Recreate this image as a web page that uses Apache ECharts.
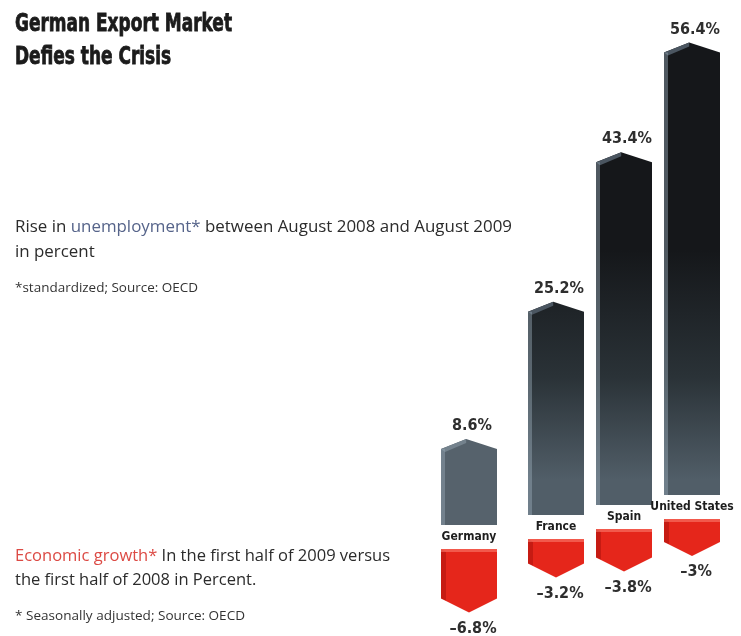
<!DOCTYPE html>
<html>
<head>
<meta charset="utf-8">
<title>German Export Market Defies the Crisis</title>
<script src="https://cdn.jsdelivr.net/npm/echarts@6/dist/echarts.min.js"></script>
<style>
  html, body { margin: 0; padding: 0; background: #ffffff; }
  #chart { width: 741px; height: 636px; }
</style>
</head>
<body>
<div id="chart"></div>
<script>
// Countries and the two indicators (percent)
const countries = ['Germany', 'France', 'Spain', 'United States'];
const unemploymentRise = [8.6, 25.2, 43.4, 56.4];
const economicGrowth = [-6.8, -3.2, -3.8, -3];

// Headline and explanatory texts
const titleLines = ['German Export Market', 'Defies the Crisis'];
const unemploymentNote = ['Rise in {u|unemployment*} between August 2008 and August 2009', 'in percent'];
const unemploymentSource = '*standardized; Source: OECD';
const growthNote = ['{g|Economic growth*} In the first half of 2009 versus', 'the first half of 2008 in Percent.'];
const growthSource = '* Seasonally adjusted; Source: OECD';

// ---- layout constants ----
const BAR_W = 56;        // column width
const STEP = 10;         // each column sits a little higher than its left neighbour
const LEAD = 19;         // extra room to the right of the first column
const PEDESTAL = 20;     // body below the zero line of the upper columns
const ROOF = 10;         // height of the pointed cap
const RED_PEDESTAL = 16; // top slab above the zero line of the lower blocks
const RED_TIP = 14;      // depth of the downward point

const labelFont = 'bold 16px "DejaVu Sans Condensed"';
const nameFont = 'bold 12px "DejaVu Sans Condensed"';
const bodyFont = '16.5px "Open Sans"';
const smallFont = '12px "Open Sans"';
const titleFont = 'bold 25px "DejaVu Sans Condensed"';

// horizontal squeeze so a line spans a given width
const measureCtx = document.createElement('canvas').getContext('2d');
function squeeze(text, font, width) {
  measureCtx.font = font;
  const plain = text.replace(/\{\w+\|([^}]*)\}/g, '$1');
  return width / measureCtx.measureText(plain).width;
}

function fmtPct(v) {
  const s = String(Math.abs(v)).replace(/\.0$/, '');
  return (v < 0 ? '\u2013' : '') + s + '%';
}

const darkFill = new echarts.graphic.LinearGradient(0, 250, 0, 480, [
  { offset: 0, color: '#15171a' },
  { offset: 0.55, color: '#2a3237' },
  { offset: 1, color: '#515e68' }
], true);

function columnX(i, api) {
  return api.coord([i, 0])[0] - (i === 0 ? LEAD : 0);
}

function renderColumn(params, api) {
  const i = params.dataIndex;
  const v = api.value(1);
  const lift = i * STEP;
  const zeroY = api.coord([i, 0])[1];
  const cx = columnX(i, api);
  const x0 = cx - BAR_W / 2, x1 = cx + BAR_W / 2;
  const base = zeroY + PEDESTAL - lift;
  const peak = api.coord([i, v])[1] - lift;
  const shoulder = peak + ROOF;
  const px = x0 + BAR_W * 0.45;
  return {
    type: 'group',
    children: [
      { type: 'polygon', shape: { points: [[x0, shoulder], [px, peak], [x1, shoulder], [x1, base], [x0, base]] },
        style: { fill: i === 0 ? '#56626c' : darkFill } },
      { type: 'polygon', shape: { points: [[x0, shoulder], [px, peak], [px, peak + 4], [x0 + 4, shoulder + 3]] },
        style: { fill: i === 0 ? '#74828d' : '#4b5661' } },
      { type: 'rect', shape: { x: x0, y: shoulder, width: 4, height: base - shoulder },
        style: { fill: 'rgba(150,168,182,0.45)' } },
      { type: 'text', x: cx + 3, y: peak - 13,
        style: { text: fmtPct(v), font: labelFont, fill: '#2e2e2e', align: 'center', verticalAlign: 'middle' } },
      { type: 'text', x: cx, y: base + 12,
        style: { text: countries[i], font: nameFont, fill: '#1e1e1e', align: 'center', verticalAlign: 'middle' } }
    ]
  };
}

function renderDrop(params, api) {
  const i = params.dataIndex;
  const v = api.value(1);
  const lift = i * STEP;
  const zeroY = api.coord([i, 0])[1];
  const cx = columnX(i, api);
  const x0 = cx - BAR_W / 2, x1 = cx + BAR_W / 2;
  const top = zeroY - RED_PEDESTAL - lift;
  const tip = api.coord([i, v])[1] - lift;
  const shoulder = tip - RED_TIP;
  return {
    type: 'group',
    children: [
      { type: 'polygon', shape: { points: [[x0, top], [x1, top], [x1, shoulder], [cx, tip], [x0, shoulder]] },
        style: { fill: '#e5261b' } },
      { type: 'polygon', shape: { points: [[x0, top], [x0 + 5, top + 3], [x0 + 5, shoulder + 2], [x0, shoulder]] },
        style: { fill: 'rgba(140,10,5,0.35)' } },
      { type: 'rect', shape: { x: x0, y: top, width: BAR_W, height: 3 },
        style: { fill: 'rgba(255,140,125,0.5)' } },
      { type: 'text', x: cx + 4, y: tip + 16,
        style: { text: fmtPct(v), font: labelFont, fill: '#2e2e2e', align: 'center', verticalAlign: 'middle' } }
    ]
  };
}

function textLine(text, x, y, font, scale, fill, rich, stroke) {
  const style = { text: text, font: font, fill: fill, verticalAlign: 'middle', rich: rich || {} };
  if (stroke) { style.stroke = fill; style.lineWidth = stroke; }
  return { type: 'text', x: x, y: y, scaleX: scale, scaleY: 1, style: style };
}

const titleScale = squeeze(titleLines[0], titleFont, 217);
const unempScale = squeeze(unemploymentNote[0], bodyFont, 497);
const growthScale = squeeze(growthNote[0], bodyFont, 375);

const chart = echarts.init(document.getElementById('chart'), null, { renderer: 'canvas' });
chart.setOption({
  backgroundColor: '#ffffff',
  animation: false,
  grid: [
    { left: 454, width: 272, top: 45, height: 460 },
    { left: 454, width: 272, top: 565, height: 70 }
  ],
  xAxis: [
    { type: 'category', gridIndex: 0, data: countries, show: false },
    { type: 'category', gridIndex: 1, data: countries, show: false }
  ],
  yAxis: [
    { type: 'value', gridIndex: 0, min: 0, max: 60, show: false },
    { type: 'value', gridIndex: 1, min: -10, max: 0, show: false }
  ],
  series: [
    { type: 'custom', name: 'Rise in unemployment', xAxisIndex: 0, yAxisIndex: 0, clip: false,
      renderItem: renderColumn, data: unemploymentRise.map((v, i) => [i, v]) },
    { type: 'custom', name: 'Economic growth', xAxisIndex: 1, yAxisIndex: 1, clip: false,
      renderItem: renderDrop, data: economicGrowth.map((v, i) => [i, v]) }
  ],
  graphic: [
    textLine(titleLines[0], 15, 24, titleFont, titleScale, '#1b1b1b', null, 0.8),
    textLine(titleLines[1], 15, 57, titleFont, titleScale, '#1b1b1b', null, 0.8),
    textLine(unemploymentNote[0], 15, 227, bodyFont, unempScale, '#2b2b2b', { u: { fill: '#56648a', font: bodyFont } }),
    textLine(unemploymentNote[1], 15, 252, bodyFont, unempScale, '#2b2b2b'),
    textLine(unemploymentSource, 15, 289, smallFont, squeeze(unemploymentSource, smallFont, 183), '#333333'),
    textLine(growthNote[0], 15, 556, bodyFont, growthScale, '#2b2b2b', { g: { fill: '#dc4a44', font: bodyFont } }),
    textLine(growthNote[1], 15, 580, bodyFont, growthScale, '#2b2b2b'),
    textLine(growthSource, 15, 617, smallFont, squeeze(growthSource, smallFont, 230), '#333333')
  ]
});
</script>
</body>
</html>
